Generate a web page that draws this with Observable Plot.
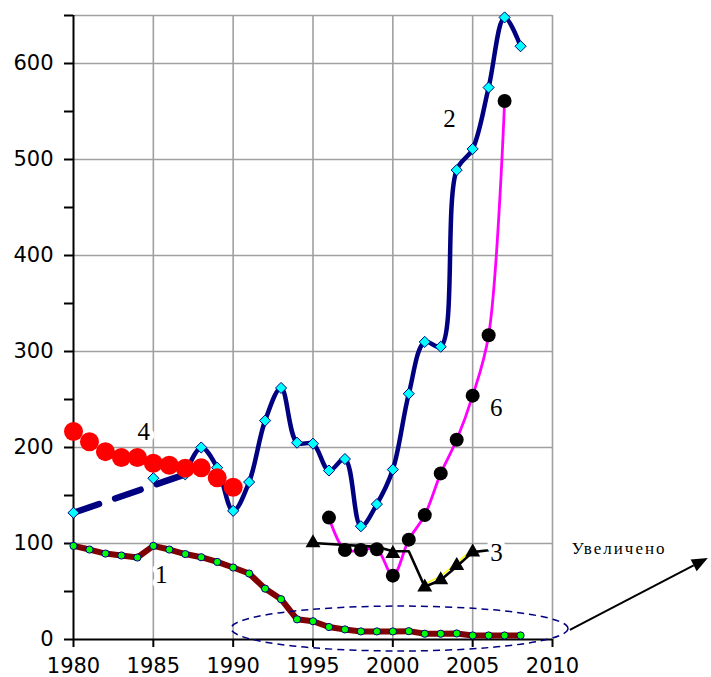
<!DOCTYPE html>
<html>
<head>
<meta charset="utf-8">
<script src="https://cdn.jsdelivr.net/npm/d3@7"></script>
<script src="https://cdn.jsdelivr.net/npm/@observablehq/plot@0.6"></script>
<style>
  body { margin: 0; background: #fff; }
</style>
</head>
<body>
<div id="chart"></div>
<script>
// ---- Data ----
// Series 1 (maroon line, green dots)
const years1 = [1980,1981,1982,1983,1984,1985,1986,1987,1988,1989,1990,1991,1992,1993,1994,1995,1996,1997,1998,1999,2000,2001,2002,2003,2004,2005,2006,2007,2008];
const values1 = [97.5,93.7,89.5,87.5,85.4,97.5,93.7,89,85.7,80.8,75,68.7,53,42,21,19,13,10.5,8.4,8.4,8.4,8.7,6,6,6.3,4.2,4.2,4.2,4.2];

// Series 2 (navy line, cyan diamonds): dashed early link and smooth solid part
const years2dash = [1980,1987];
const values2dash = [132,172];
const years2mark = [1980,1985];
const values2mark = [132,168];
const years2 = [1987,1988,1989,1990,1991,1992,1993,1994,1995,1996,1997,1998,1999,2000,2001,2002,2003,2004,2005,2006,2007,2008];
const values2 = [172,200,179,134,164,228,262,205,204,176,188,118,141,177,256,310,305,489,511,575,648,618];

// Series 3 (black line, triangles)
const years3 = [1995,1996,1997,1998,1999,2000,2001,2002,2003,2004,2005,2006];
const values3 = [100.5,99.5,98.5,97.5,96.5,92,92,55,62,76,91,93];
const years3mark = [1995,2000,2002,2003,2004,2005];
const values3mark = [100.5,89.5,54.5,62,77,91];
const years3yellow = [2002,2003,2004,2005];
const values3yellow = [58,66,80,94];

// Series 4 (red dots)
const years4 = [1980,1981,1982,1983,1984,1985,1986,1987,1988,1989,1990];
const values4 = [216.6,206,195.7,189.5,189.5,183.6,181.5,178.4,178.8,168.5,158.5];

// Series 6 (magenta smooth line, black dots)
const years6 = [1996,1997,1998,1999,2000,2001,2002,2003,2004,2005,2006,2007];
const values6 = [127,93.3,93.3,94,66.5,104,129.6,173,208,254,317,561];

// Series labels
const labelText = ["1","2","3","4","6"];
const labelYear = [1985.5,2003.55,2006.5,1984.4,2006.47];
const labelValue = [66.7,541.7,90.6,216,241];

// Annotation
const noteText = ["Увеличено"];
const noteYear = [2011.2];
const noteValue = [94.8];
const ellipseCenter = [2000.45, 10.9];
const ellipseRadii = [10.55, 23.4];
const arrowFrom = [2011.12, 9.4];
const arrowTo = [2019.76, 84.4];

// Axes / grid
const xTicks = [1980,1985,1990,1995,2000,2005,2010];
const yTicks = [0,50,100,150,200,250,300,350,400,450,500,550,600,650];
const xGrid = [1985,1990,1995,2000,2005,2010];
const yGrid = [100,200,300,400,500,600,650];

// ---- Build tables ----
const zip = (xs, ys) => xs.map((x, i) => ({x, y: ys[i]}));
const s1 = zip(years1, values1);
const s2d = zip(years2dash, values2dash);
const s2m = zip(years2mark, values2mark);
const s2 = zip(years2, values2);
const s3 = zip(years3, values3);
const s3m = zip(years3mark, values3mark);
const s3y = zip(years3yellow, values3yellow);
const s4 = zip(years4, values4);
const s6 = zip(years6, values6);
const labels = labelText.map((t, i) => ({t, x: labelYear[i], y: labelValue[i]}));
const notes = noteText.map((t, i) => ({t, x: noteYear[i], y: noteValue[i]}));

function ellipseMark(index, scales) {
  const {x, y} = scales;
  const cx = x(ellipseCenter[0]), cy = y(ellipseCenter[1]);
  const rx = x(ellipseCenter[0] + ellipseRadii[0]) - cx;
  const ry = cy - y(ellipseCenter[1] + ellipseRadii[1]);
  const g = d3.create("svg:g");
  g.append("ellipse")
    .attr("cx", cx).attr("cy", cy).attr("rx", rx).attr("ry", ry)
    .attr("fill", "none").attr("stroke", "#000080")
    .attr("stroke-width", 1.5).attr("stroke-dasharray", "7,5");
  return g.node();
}

function arrowMark(index, scales) {
  const {x, y} = scales;
  const x1 = x(arrowFrom[0]), y1 = y(arrowFrom[1]);
  const x2 = x(arrowTo[0]), y2 = y(arrowTo[1]);
  const ang = Math.atan2(y2 - y1, x2 - x1);
  const len = 16, half = 6.5;
  const bx = x2 - len * Math.cos(ang), by = y2 - len * Math.sin(ang);
  const px = -Math.sin(ang) * half, py = Math.cos(ang) * half;
  const g = d3.create("svg:g");
  g.append("line").attr("x1", x1).attr("y1", y1).attr("x2", bx).attr("y2", by)
    .attr("stroke", "#000").attr("stroke-width", 2);
  g.append("polygon")
    .attr("points", `${x2},${y2} ${bx + px},${by + py} ${bx - px},${by - py}`)
    .attr("fill", "#000");
  return g.node();
}

const plot = Plot.plot({
  width: 711,
  height: 677,
  marginLeft: 73,
  marginRight: 159,
  marginTop: 15,
  marginBottom: 38,
  style: {fontFamily: "DejaVu Sans", fontSize: "21px", background: "#fff", color: "#000", overflow: "visible"},
  x: {domain: [1980, 2010], ticks: xTicks, tickFormat: d => String(d), tickSize: 8, tickPadding: 11, label: null},
  y: {domain: [0, 650], ticks: yTicks, tickFormat: d => d % 100 === 0 ? String(d) : "", tickSize: 9, tickPadding: 11, label: null},
  marks: [
    Plot.ruleY(yGrid, {stroke: "#a0a0a0", strokeWidth: 1.6}),
    Plot.ruleX(xGrid, {stroke: "#a0a0a0", strokeWidth: 1.6}),
    Plot.ruleX([1980], {stroke: "#000", strokeWidth: 2}),
    Plot.ruleY([0], {stroke: "#000", strokeWidth: 2}),
    // Series 1
    Plot.line(s1, {x: "x", y: "y", stroke: "#800000", strokeWidth: 6}),
    Plot.dot(s1, {x: "x", y: "y", r: 3.6, fill: "#00ff00", stroke: "#000080", strokeWidth: 1}),
    // Series 2
    Plot.line(s2d, {x: "x", y: "y", stroke: "#000080", strokeWidth: 6.5, strokeDasharray: "27,17"}),
    Plot.line(s2, {x: "x", y: "y", stroke: "#000080", strokeWidth: 4.5, curve: "catmull-rom"}),
    Plot.dot(s2m.concat(s2), {x: "x", y: "y", r: 5, symbol: "diamond2", fill: "#00ffff", stroke: "#000080", strokeWidth: 1}),
    // Series 6
    Plot.line(s6, {x: "x", y: "y", stroke: "#ff00ff", strokeWidth: 2.8, curve: "catmull-rom"}),
    // Series 3
    Plot.line(s3y, {x: "x", y: "y", stroke: "#ffff00", strokeWidth: 1.5}),
    Plot.line(s3, {x: "x", y: "y", stroke: "#000", strokeWidth: 2.6}),
    Plot.dot(s3m, {x: "x", y: "y", r: 4.6, symbol: "triangle", fill: "#000", stroke: "#000"}),
    Plot.dot(s6, {x: "x", y: "y", r: 7, fill: "#000"}),
    // Series 4
    Plot.dot(s4, {x: "x", y: "y", r: 9.5, fill: "#ff0000"}),
    // Annotations
    ellipseMark,
    arrowMark,
    Plot.text(labels, {x: "x", y: "y", text: "t", fontFamily: "Liberation Serif", fontSize: 25, fill: "#000", stroke: "#fff", strokeWidth: 9, paintOrder: "stroke"}),
    Plot.text(notes, {x: "x", y: "y", text: "t", textAnchor: "start", fontFamily: "Liberation Serif", fontSize: 17, fill: "#000"})
  ]
});

d3.select(plot).selectAll('g[aria-label$="tick"]').attr("stroke-width", 2);
d3.select(plot).selectAll("text").filter(function() { return this.textContent === "Увеличено"; }).attr("letter-spacing", "2px");
document.getElementById("chart").appendChild(plot);
</script>
</body>
</html>
